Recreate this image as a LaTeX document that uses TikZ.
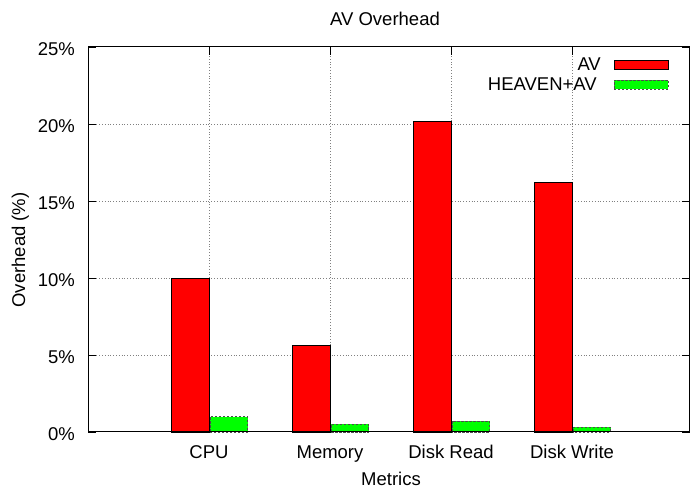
\documentclass[tikz,border=0pt]{standalone}
\usepackage{fontspec}
\setmainfont{Liberation Sans}
\tikzset{
  gridline/.style={gray, line width=0.8pt, dotted},
  avbar/.style={draw=black, fill=red, line width=0.8pt},
  heavenbar/.style={draw=black!70, fill=green, line width=0.8pt, dashed, dash pattern=on 2.5pt off 1.5pt},
  ticklabel/.style={inner sep=0pt},
}
\begin{document}
\begin{tikzpicture}[x=1pt, y=1pt, font=\fontsize{18.5}{20}\selectfont]
	\useasboundingbox (0,0) rectangle (691,489);
	\node[ticklabel, anchor=base] (title) at (385,463) {AV Overhead};
	\node[ticklabel, rotate=90, anchor=base] (ylabel) at (25,239) {Overhead (\%)};
	\node[ticklabel, anchor=base] (xlabel) at (391,3) {Metrics};
	\begin{scope}[shift={(209,57)}, x=121pt, y=15.4pt]
		% grid
		\foreach \v in {5,10,...,20}
			\draw[gridline] (-1,\v) -- (3.975,\v);
		\foreach \c in {0,...,3}
			\draw[gridline] (\c,0) -- (\c,25);
		% bars
		\foreach \c/\a/\h in {0/10/1, 1/5.65/0.5, 2/20.2/0.7, 3/16.2/0.3}{
			\draw[avbar] (\c-0.31,0) rectangle (\c,\a);
			\draw[heavenbar] (\c+0.01,0) rectangle (\c+0.32,\h);
		}
		% frame and ticks
		\draw[line width=1pt] (-1,0) rectangle (3.975,25);
		\foreach \v in {0,5,...,25}{
			\draw[line width=0.8pt] (-1,\v) -- ++(8pt,0);
			\draw[line width=0.8pt] (3.975,\v) -- ++(-8pt,0);
			\node[ticklabel, anchor=base east] (y\v) at ([xshift=-13pt, yshift=-9pt]-1,\v) {\v\%};
		}
		\foreach \c/\name in {0/CPU, 1/Memory, 2/Disk Read, 3/Disk Write}{
			\draw[line width=0.8pt] (\c,0) -- ++(0,8pt);
			\draw[line width=0.8pt] (\c,25) -- ++(0,-8pt);
			\node[ticklabel, anchor=base] (x\c) at ([yshift=-27pt]\c,0) {\name};
		}
	\end{scope}
	% key
	\node[ticklabel, anchor=east] (keyav) at (601,425) {AV};
	\node[ticklabel, anchor=east] (keyheaven) at (597,405) {HEAVEN+AV};
	\draw[avbar] (614,420) rectangle (668,429);
	\draw[heavenbar] (614,400) rectangle (668,409);
\end{tikzpicture}
\end{document}
